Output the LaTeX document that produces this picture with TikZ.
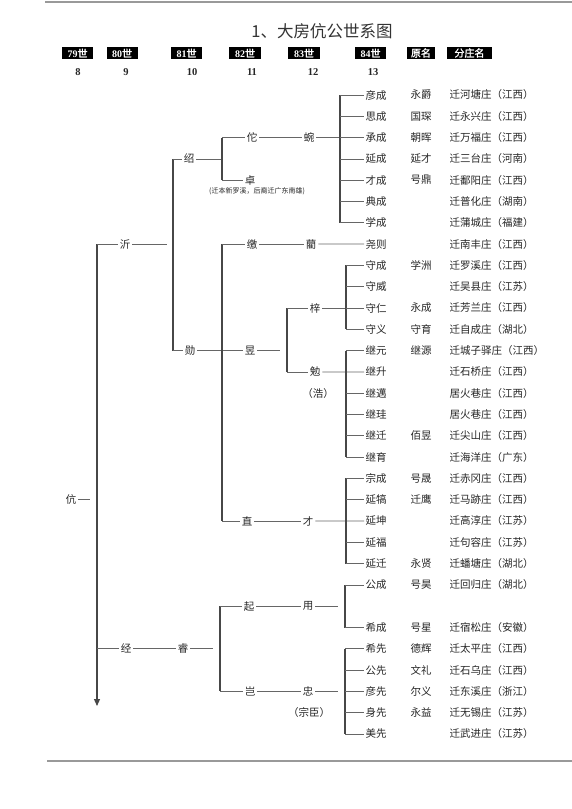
\documentclass[tikz,border=0pt]{standalone}
\usepackage{fontspec}
\setmainfont{Noto Sans CJK SC}
\newfontfamily\cjkb[FakeBold=1.5]{Noto Sans CJK SC}
\newfontfamily\serifb{Liberation Serif}
\usetikzlibrary{arrows.meta}
\begin{document}
\begin{tikzpicture}[x=1pt,y=-1pt,
  nm/.style={font=\fontsize{10.5}{12}\selectfont, text=black!85, inner sep=1.5pt},
  tn/.style={nm, inner sep=2pt},
  note/.style={font=\fontsize{7}{8}\selectfont, text=black!85, inner sep=0pt},
  ln/.style={draw=black!60, line width=0.75pt},
  br/.style={draw=black!72, line width=1.1pt},
  hdr/.style={fill=black, text=white, minimum height=12pt, inner sep=0pt, font=\cjkb\fontsize{10}{11}\selectfont},
  num/.style={font=\serifb\bfseries\fontsize{10.5}{11}\selectfont, text=black!85},
  rulestyle/.style={draw=black!40, line width=1.6pt}]

\useasboundingbox (0,0) rectangle (572,809);
\fill[white] (0,0) rectangle (572,809);

% rules
\coordinate (tl) at (45,2); \coordinate (tr) at (572,2);
\coordinate (bl) at (47,761); \coordinate (brr) at (572,761);
\draw[rulestyle] (tl) -- (tr);
\draw[rulestyle] (bl) -- (brr);

% title
\node[font=\fontsize{16.5}{18}\selectfont, text=black!80] (title) at (322,31) {1、大房伉公世系图};

% headers
\node[hdr, minimum width=31pt] (h79) at (77.5,53) {{\serifb\bfseries 79}世};
\node[hdr, minimum width=31pt] (h80) at (122,53) {{\serifb\bfseries 80}世};
\node[hdr, minimum width=31pt] (h81) at (186.5,53) {{\serifb\bfseries 81}世};
\node[hdr, minimum width=32pt] (h82) at (245,53) {{\serifb\bfseries 82}世};
\node[hdr, minimum width=32pt] (h83) at (304,53) {{\serifb\bfseries 83}世};
\node[hdr, minimum width=31pt] (h84) at (370.5,53) {{\serifb\bfseries 84}世};
\node[hdr, minimum width=28pt] (hyuan) at (421,53) {原名};
\node[hdr, minimum width=45pt] (hfen) at (469.5,53) {分庄名};

\node[num] (g8) at (78,72) {8};
\node[num] (g9) at (126,72) {9};
\node[num] (g10) at (192,72) {10};
\node[num] (g11) at (252,72) {11};
\node[num] (g12) at (313,72) {12};
\node[num] (g13) at (373,72) {13};

% 84th generation names
\foreach \i/\t in {1/彦成,2/思成,3/承成,4/延成,5/才成,6/典成,7/学成,8/尧则,9/守成,10/守威,11/守仁,12/守义,13/继元,14/继升,15/继邁,16/继珪,17/继迁,18/继育,19/宗成,20/延犒,21/延坤,22/延福,23/延迁,24/公成,26/希成,27/希先,28/公先,29/彦先,30/身先,31/美先}
  \node[nm, anchor=west] (n\i) at (364,{95+(\i-1)*21.3}) {\t};

% original names
\foreach \i/\t in {1/永爵,2/国琛,3/朝晖,4/延才,5/号鼎,9/学洲,11/永成,12/守育,13/继源,17/佰昱,19/号晟,20/迁鹰,23/永贤,24/号昊,26/号星,27/德辉,28/文礼,29/尔义,30/永益}
  \node[nm] (o\i) at (421,{95+(\i-1)*21.3}) {\t};

% branch villages
\foreach \i/\t in {1/迁河塘庄（江西）,2/迁永兴庄（江西）,3/迁万福庄（江西）,4/迁三台庄（河南）,5/迁鄱阳庄（江西）,6/迁普化庄（湖南）,7/迁蒲城庄（福建）,8/迁南丰庄（江西）,9/迁罗溪庄（江西）,10/迁吴县庄（江苏）,11/迁芳兰庄（江西）,12/迁自成庄（湖北）,13/迁城子驿庄（江西）,14/迁石桥庄（江西）,15/居火巷庄（江西）,16/居火巷庄（江西）,17/迁尖山庄（江西）,18/迁海洋庄（广东）,19/迁赤冈庄（江西）,20/迁马跡庄（江西）,21/迁高淳庄（江苏）,22/迁句容庄（江苏）,23/迁蟠塘庄（湖北）,24/迁回归庄（湖北）,26/迁宿松庄（安徽）,27/迁太平庄（江西）,28/迁石乌庄（江西）,29/迁东溪庄（浙江）,30/迁无锡庄（江苏）,31/迁武进庄（江苏）}
  \node[nm, anchor=west] (p\i) at (448,{95+(\i-1)*21.3}) {\t};

% tree nodes
\node[tn] (kang) at (71,499.7) {伉};
\node[tn] (yi) at (125,244.1) {沂};
\node[tn] (jing) at (126,648.8) {经};
\node[tn] (shao) at (189,158.9) {绍};
\node[tn] (xun) at (190,350.6) {勋};
\node[tn] (rui) at (183,648.8) {睿};
\node[tn] (tuo) at (252,137.6) {佗};
\node[tn] (zhuo) at (250,180.2) {卓};
\node[note] (zhuonote) at (257,191) {(迁本新罗溪，后裔迁广东南雄)};
\node[tn] (jiao) at (252,244.1) {缴};
\node[tn] (yu) at (250,350.6) {昱};
\node[tn] (zhi) at (247,521) {直};
\node[tn] (qi) at (249,606.2) {起};
\node[tn] (kai) at (250,691.4) {岂};
\node[tn] (wan) at (309,137.6) {蜿};
\node[tn] (lin) at (311,244.1) {藺};
\node[tn] (zi) at (315,308) {梓};
\node[tn] (mian) at (315,371.9) {勉};
\node[nm] (hao) at (318,393.2) {（浩）};
\node[tn] (cai) at (308,521) {才};
\node[tn] (yong) at (308,606.2) {用};
\node[tn] (zhong) at (308,691.4) {忠};
\node[nm] (zongchen) at (309,712.7) {（宗臣）};

% bar coordinates and free ends
\coordinate (vMain) at (97,0);
\coordinate (vL81) at (173,0);
\coordinate (vL82) at (222,0);
\coordinate (vQ) at (220,0);
\coordinate (vYu) at (287,0);
\coordinate (vA) at (340,0);
\coordinate (vB) at (346,0);
\coordinate (vC) at (345,0);
\coordinate (kangEnd) at (90,499.7);
\coordinate (mainEnd) at (97,706);
\coordinate (yiEnd) at (167,244.1);
\coordinate (ruiEnd) at (213,648.8);
\coordinate (yuEnd) at (280,350.6);
\coordinate (yongEnd) at (338,606.2);
\coordinate (zhongEnd) at (338,691.4);

% 79-80
\draw[ln] (kang.east) -- (kangEnd);
\draw[br,-{Triangle[width=6pt,length=7pt]}] (vMain |- yi.west) -- (mainEnd);
\draw[ln] (vMain |- yi.west) -- (yi.west);
\draw[ln] (yi.east) -- (yiEnd);
\draw[ln] (vMain |- jing.west) -- (jing.west);
\draw[ln] (jing.east) -- (rui.west);
\draw[ln] (rui.east) -- (ruiEnd);

% 81
\draw[br] (vL81 |- shao.west) -- (vL81 |- xun.west);
\draw[ln] (vL81 |- shao.west) -- (shao.west);
\draw[ln] (shao.east) -- (vL82 |- shao.east);
\draw[ln] (vL81 |- xun.west) -- (xun.west);
\draw[ln] (xun.east) -- (yu.west);

% 82 under shao
\draw[br] (vL82 |- tuo.west) -- (vL82 |- zhuo.west);
\draw[ln] (vL82 |- tuo.west) -- (tuo.west);
\draw[ln] (tuo.east) -- (wan.west);
\draw[ln] (wan.east) -- (vA |- wan.east);
\draw[ln] (vL82 |- zhuo.west) -- (zhuo.west);

% 82 under xun
\draw[br] (vL82 |- jiao.west) -- (vL82 |- zhi.west);
\draw[ln] (vL82 |- jiao.west) -- (jiao.west);
\draw[ln] (jiao.east) -- (lin.west);
\draw[ln] (lin.east) -- (n8.west);
\draw[ln] (yu.east) -- (yuEnd);
\draw[br] (vYu |- zi.west) -- (vYu |- mian.west);
\draw[ln] (vYu |- zi.west) -- (zi.west);
\draw[ln] (zi.east) -- (vB |- zi.east);
\draw[ln] (vYu |- mian.west) -- (mian.west);
\draw[ln] (mian.east) -- (n14.west);
\draw[ln] (vL82 |- zhi.west) -- (zhi.west);
\draw[ln] (zhi.east) -- (cai.west);
\draw[ln] (cai.east) -- (n21.west);

% 82 under rui
\draw[br] (vQ |- qi.west) -- (vQ |- kai.west);
\draw[ln] (vQ |- qi.west) -- (qi.west);
\draw[ln] (qi.east) -- (yong.west);
\draw[ln] (yong.east) -- (yongEnd);
\draw[ln] (vQ |- kai.west) -- (kai.west);
\draw[ln] (kai.east) -- (zhong.west);
\draw[ln] (zhong.east) -- (zhongEnd);

% 84 brackets
\draw[br] (vA |- n1.west) -- (vA |- n7.west);
\foreach \i in {1,...,7} \draw[ln] (vA |- n\i.west) -- (n\i.west);
\draw[br] (vB |- n9.west) -- (vB |- n12.west);
\foreach \i in {9,...,12} \draw[ln] (vB |- n\i.west) -- (n\i.west);
\draw[br] (vB |- n13.west) -- (vB |- n18.west);
\foreach \i in {13,15,16,17,18} \draw[ln] (vB |- n\i.west) -- (n\i.west);
\draw[br] (vB |- n19.west) -- (vB |- n23.west);
\foreach \i in {19,20,22,23} \draw[ln] (vB |- n\i.west) -- (n\i.west);
\draw[br] (vC |- n24.west) -- (vC |- n26.west);
\foreach \i in {24,26} \draw[ln] (vC |- n\i.west) -- (n\i.west);
\draw[br] (vC |- n27.west) -- (vC |- n31.west);
\foreach \i in {27,...,31} \draw[ln] (vC |- n\i.west) -- (n\i.west);
\end{tikzpicture}
\end{document}
